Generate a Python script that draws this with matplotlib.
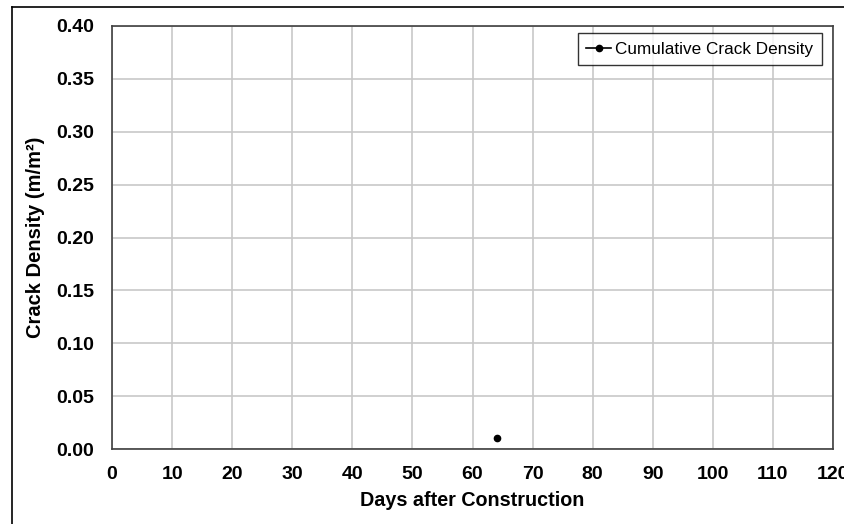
import matplotlib.pyplot as plt
from matplotlib.lines import Line2D

# data
days = [64]
crack_density = [0.01]
x_ticks = list(range(0, 121, 10))
y_ticks = [0.00, 0.05, 0.10, 0.15, 0.20, 0.25, 0.30, 0.35, 0.40]

plt.rcParams['font.family'] = ['Liberation Sans', 'DejaVu Sans']

W, H = 844, 524
fig = plt.figure(figsize=(W / 100, H / 100), dpi=100)
ax = fig.add_axes([112 / W, 1 - 449 / H, (833 - 112) / W, (449 - 26) / H])

ax.plot(days, crack_density, '-o', color='black', markersize=4.5, lw=1.2,
        label='Cumulative Crack Density')

ax.set_xlim(0, 120)
ax.set_ylim(0, 0.40)
ax.set_xticks(x_ticks)
ax.set_yticks(y_ticks)
ax.set_xticklabels([str(t) for t in x_ticks], fontsize=14, fontweight='bold')
ax.set_yticklabels(['%.2f' % t for t in y_ticks], fontsize=14, fontweight='bold')
ax.tick_params(length=0)
ax.tick_params(axis='x', pad=12)
ax.tick_params(axis='y', pad=13)
ax.grid(True, color='#c8c8c8', lw=1.2)
ax.set_axisbelow(True)
for s in ax.spines.values():
    s.set_color('#404040')
    s.set_linewidth(1.2)

ax.set_xlabel('Days after Construction', fontsize=14.2, fontweight='bold', labelpad=6)
ax.set_ylabel('Crack Density (m/m²)', fontsize=14.5, fontweight='bold', labelpad=8)

leg = ax.legend(loc='upper right', fontsize=12.3, frameon=True, fancybox=False,
                handlelength=1.45, handletextpad=0.25, borderpad=0.5,
                borderaxespad=0,
                bbox_to_anchor=(1 - 11 / 721, 1 - 7 / 423))
leg.get_frame().set_edgecolor('black')
leg.get_frame().set_linewidth(1.0)

# outer chart frame (cropped)
fig.add_artist(Line2D([12 / W, 12 / W], [0, 1 - 7 / H], color='black', lw=1.2,
                      transform=fig.transFigure))
fig.add_artist(Line2D([12 / W, 1], [1 - 7 / H, 1 - 7 / H], color='black', lw=1.2,
                      transform=fig.transFigure))

fig.savefig('out.png', dpi=100)
